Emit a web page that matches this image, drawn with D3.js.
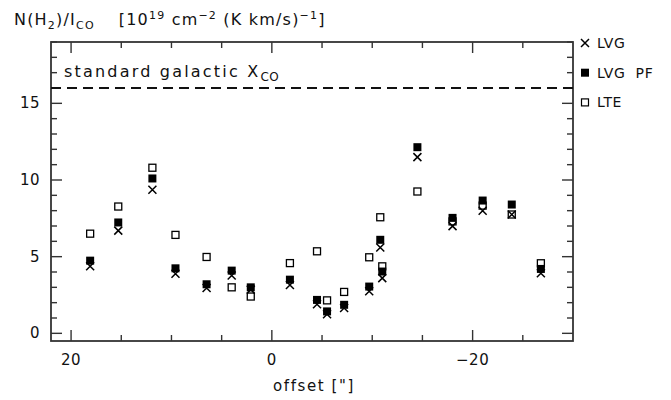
<!DOCTYPE html>
<html>
<head>
<meta charset="utf-8">
<script src="https://cdn.jsdelivr.net/npm/d3@7"></script>
<style>
  body { margin: 0; background: #fff; }
  text { font-family: "DejaVu Sans", sans-serif; fill: #111; }
</style>
</head>
<body>
<div id="chart"></div>
<script>
// values
var offsets = [18.1, 15.3, 11.9, 9.6, 6.5, 4.0, 2.1, -1.8, -4.5, -5.5, -7.2, -9.7, -10.8, -11.0, -14.5, -18.0, -21.0, -23.9, -26.8];
var lvg     = [4.37, 6.7, 9.36, 3.88, 2.96, 3.77, 2.85, 3.15, 1.9, 1.25, 1.65, 2.74, 5.6, 3.6, 11.49, 6.99, 8.0, 7.75, 3.92];
var lvgPF   = [4.74, 7.23, 10.1, 4.24, 3.2, 4.09, 3.0, 3.5, 2.18, 1.43, 1.86, 3.05, 6.1, 4.03, 12.14, 7.53, 8.66, 8.4, 4.2];
var lte     = [6.5, 8.27, 10.8, 6.42, 4.98, 3.0, 2.4, 4.58, 5.35, 2.15, 2.7, 4.96, 7.57, 4.37, 9.25, 7.3, 8.33, 7.75, 4.57];
var standardX = 16;
var xMajor = [20, 0, -20];
var yMajor = [0, 5, 10, 15];

(function(){

var width = 671, height = 400;
var pLeft = 51, pRight = 573, pTop = 42, pBottom = 341;

var svg = d3.select("#chart").append("svg")
  .attr("width", width)
  .attr("height", height);

var x = d3.scaleLinear().domain([22, -30]).range([pLeft, pRight]);
var y = d3.scaleLinear().domain([-0.5, 19]).range([pBottom, pTop]);

var ink = "#333";

// ticks: minor every 5 / 1, major at labelled values
var xMinor = d3.range(-30, 23, 5);
var yMinor = d3.range(0, 20, 1);

var g = svg.append("g").attr("stroke", ink).attr("stroke-width", 1.4);

xMinor.forEach(function(v){
  var len = xMajor.indexOf(v) >= 0 ? 11 : 6;
  var px = x(v);
  if (px <= pLeft + 1 || px >= pRight - 1) return;
  g.append("line").attr("x1", px).attr("x2", px).attr("y1", pBottom).attr("y2", pBottom - len);
  g.append("line").attr("x1", px).attr("x2", px).attr("y1", pTop).attr("y2", pTop + len);
});
yMinor.forEach(function(v){
  var len = yMajor.indexOf(v) >= 0 ? 11 : 6;
  var py = y(v);
  g.append("line").attr("y1", py).attr("y2", py).attr("x1", pLeft).attr("x2", pLeft + len);
  g.append("line").attr("y1", py).attr("y2", py).attr("x1", pRight).attr("x2", pRight - len);
});

// frame
svg.append("rect")
  .attr("x", pLeft).attr("y", pTop)
  .attr("width", pRight - pLeft).attr("height", pBottom - pTop)
  .attr("fill", "none").attr("stroke", ink).attr("stroke-width", 1.8);

// tick labels
svg.selectAll(".xlab").data(xMajor).enter().append("text")
  .attr("class", "xlab")
  .attr("x", function(d){ return x(d); })
  .attr("y", 365)
  .attr("text-anchor", "middle")
  .attr("font-size", 15)
  .attr("letter-spacing", 0.5)
  .text(function(d){ return d < 0 ? "\u2212" + (-d) : d; });

svg.selectAll(".ylab").data(yMajor).enter().append("text")
  .attr("class", "ylab")
  .attr("x", 40)
  .attr("y", function(d){ return y(d) + 5; })
  .attr("text-anchor", "end")
  .attr("font-size", 15)
  .attr("letter-spacing", 0.5)
  .text(function(d){ return d; });

// axis titles
svg.append("text")
  .attr("x", 314).attr("y", 391)
  .attr("text-anchor", "middle")
  .attr("font-size", 15)
  .attr("letter-spacing", 1.6)
  .text("offset [\"]");

var title = svg.append("text").attr("x", 14).attr("y", 25)
  .attr("font-size", 16).attr("letter-spacing", 1.2);
title.append("tspan").text("N(H");
title.append("tspan").attr("font-size", 11).attr("dy", 4).text("2");
title.append("tspan").attr("dy", -4).text(")/I");
title.append("tspan").attr("font-size", 11).attr("dy", 4).text("CO");
title.append("tspan").attr("dy", -4).attr("dx", 24).text("[10");
title.append("tspan").attr("font-size", 11).attr("dy", -6).text("19");
title.append("tspan").attr("dy", 6).text(" cm");
title.append("tspan").attr("font-size", 11).attr("dy", -6).text("\u22122");
title.append("tspan").attr("dy", 6).text(" (K km/s)");
title.append("tspan").attr("font-size", 11).attr("dy", -6).text("\u22121");
title.append("tspan").attr("dy", 6).text("]");

// standard galactic line
svg.append("line")
  .attr("x1", pLeft).attr("x2", pRight)
  .attr("y1", y(standardX)).attr("y2", y(standardX))
  .attr("stroke", "#111").attr("stroke-width", 1.8)
  .attr("stroke-dasharray", "10,6");

var std = svg.append("text").attr("x", 64).attr("y", 77)
  .attr("font-size", 16).attr("letter-spacing", 2.2);
std.append("tspan").text("standard galactic X");
std.append("tspan").attr("font-size", 12).attr("dy", 4).attr("letter-spacing", 0.5).text("CO");

// markers
var s = 8;
function cross(sel, cx, cy){
  var h = s / 2;
  sel.append("path")
    .attr("d", "M" + (cx - h) + "," + (cy - h) + "L" + (cx + h) + "," + (cy + h) +
               "M" + (cx - h) + "," + (cy + h) + "L" + (cx + h) + "," + (cy - h))
    .attr("stroke", "#000").attr("stroke-width", 1.5).attr("fill", "none");
}

var marks = svg.append("g");
marks.selectAll(".pf").data(offsets).enter().append("rect")
  .attr("class", "pf")
  .attr("x", function(d){ return x(d) - s / 2; })
  .attr("y", function(d, i){ return y(lvgPF[i]) - s / 2; })
  .attr("width", s).attr("height", s)
  .attr("fill", "#000");

marks.selectAll(".lte").data(offsets).enter().append("rect")
  .attr("class", "lte")
  .attr("x", function(d){ return x(d) - s / 2 + 0.5; })
  .attr("y", function(d, i){ return y(lte[i]) - s / 2 + 0.5; })
  .attr("width", s - 1).attr("height", s - 1)
  .attr("fill", "none").attr("stroke", "#000").attr("stroke-width", 1.3);

offsets.forEach(function(d, i){ cross(marks, x(d), y(lvg[i])); });

// legend
var legend = [
  {name: "LVG", type: "x"},
  {name: "LVG  PF", type: "filled"},
  {name: "LTE", type: "open"}
];
legend.forEach(function(l, i){
  var cy = 43 + i * 29.7;
  if (l.type === "x") {
    cross(svg, 585, cy);
  } else if (l.type === "filled") {
    svg.append("rect").attr("x", 581).attr("y", cy - 4).attr("width", 8).attr("height", 8).attr("fill", "#000");
  } else {
    svg.append("rect").attr("x", 581.5).attr("y", cy - 3.5).attr("width", 7).attr("height", 7)
      .attr("fill", "none").attr("stroke", "#000").attr("stroke-width", 1.2);
  }
  svg.append("text").attr("x", 597).attr("y", cy + 5).attr("font-size", 14)
    .attr("letter-spacing", 0.6)
    .attr("xml:space", "preserve").style("white-space", "pre").text(l.name);
});

})();
</script>
</body>
</html>
